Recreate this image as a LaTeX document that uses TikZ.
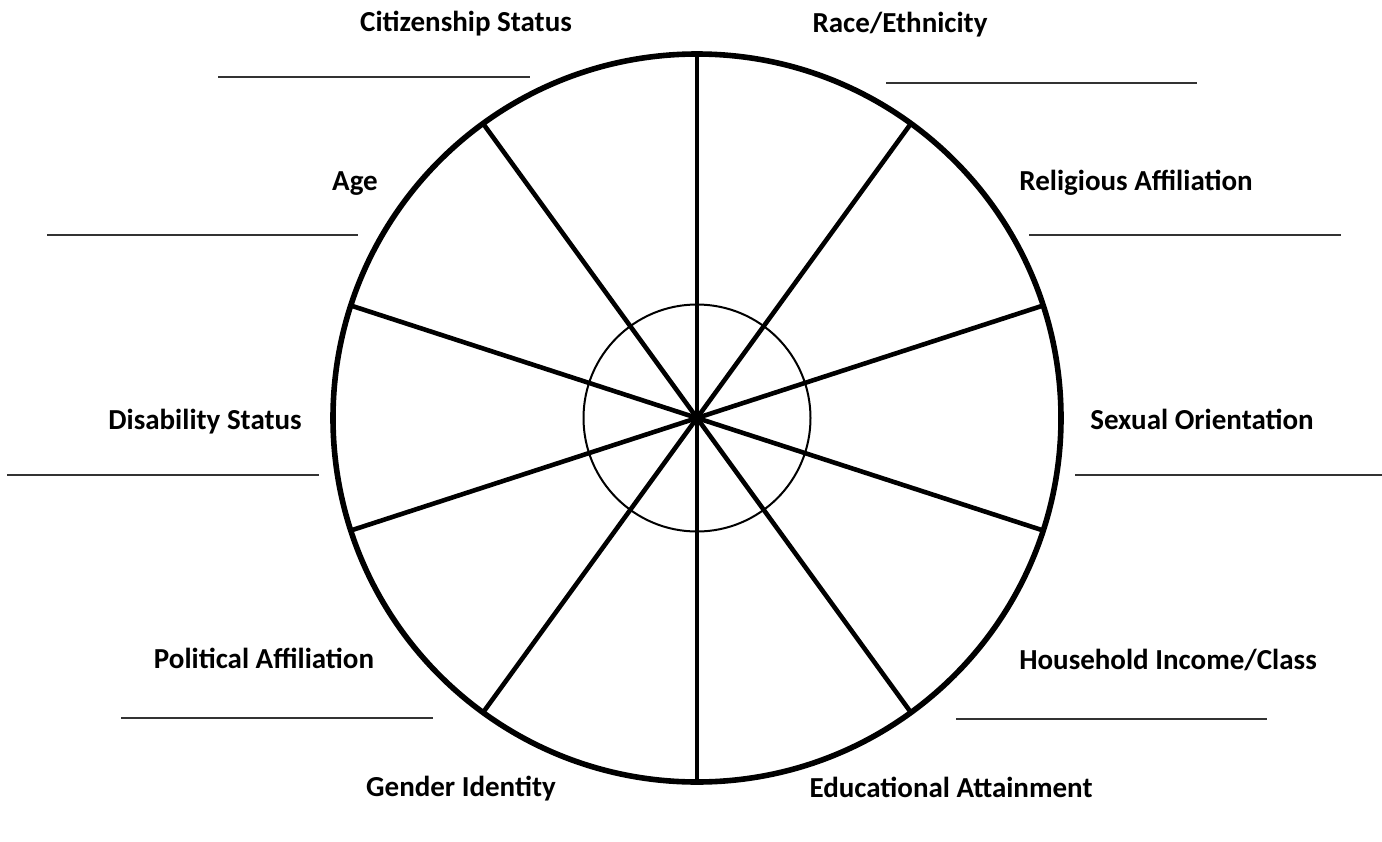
\documentclass[tikz,border=0pt]{standalone}
\usepackage{fontspec}
\setmainfont{Carlito}
\usetikzlibrary{positioning}

\begin{document}
\begin{tikzpicture}[x=0.5pt, y=-0.5pt,
    every node/.style={font=\fontsize{14.5}{17}\selectfont\bfseries, inner sep=0pt, anchor=base},
    blank/.style={line width=0.9pt, black!80}]
    \useasboundingbox (0,0) rectangle (1382,841);
    % wheel
    \coordinate (hub) at (697,418);
    \draw[line width=2.8pt] (hub) circle (364);
    \draw[line width=1pt] (hub) circle (113.5);
    \foreach \a in {18,54,...,342} {
      \draw[line width=2.3pt] (hub) -- ++(\a:364);
    }
    % labels
    \node (citizen) at (466,31) {Citizenship Status};
    \node (race) at (900,32) {Race/Ethnicity};
    \node (age) at (355,190) {Age};
    \node (religion) at (1136,190) {Religious Affiliation};
    \node (disability) at (205,429) {Disability Status};
    \node (sexual) at (1202,429) {Sexual Orientation};
    \node (political) at (264,668) {Political Affiliation};
    \node (income) at (1168,669) {Household Income/Class};
    \node (gender) at (461,796) {Gender Identity};
    \node (education) at (951,797) {Educational Attainment};
    % blanks to write on
    \draw[blank] (218,77) -- (530,77);
    \draw[blank] (886,83) -- (1197,83);
    \draw[blank] (47,235) -- (358,235);
    \draw[blank] (1029,235) -- (1341,235);
    \draw[blank] (7,475) -- (319,475);
    \draw[blank] (1075,475) -- (1382,475);
    \draw[blank] (121,718) -- (433,718);
    \draw[blank] (956,719) -- (1267,719);
  \end{tikzpicture}
\end{document}
